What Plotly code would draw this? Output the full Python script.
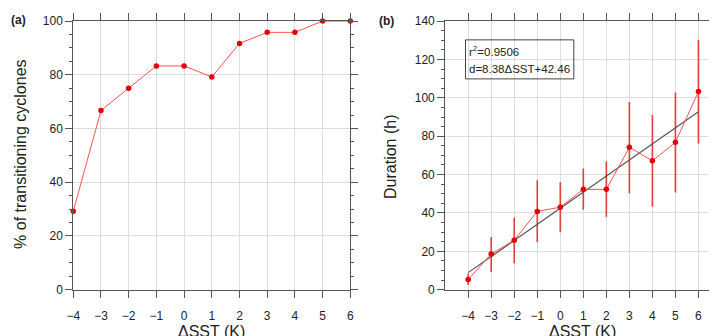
import plotly.graph_objects as go

# ---- data ----
dsst = [-4, -3, -2, -1, 0, 1, 2, 3, 4, 5, 6]
pct_transition = [29.2, 66.7, 75.0, 83.3, 83.3, 79.2, 91.7, 95.8, 95.8, 100.0, 100.0]
duration = [5.3, 18.6, 25.8, 40.8, 43.0, 52.3, 52.3, 74.2, 67.2, 76.8, 103.3]
duration_hi = [8.3, 27.5, 37.5, 57.0, 56.0, 63.2, 66.8, 97.8, 91.0, 102.8, 130.3]
duration_lo = [2.5, 9.2, 13.8, 24.7, 30.0, 41.7, 38.0, 50.3, 43.2, 50.7, 76.2]
fit_x = [-4, 6]
fit_y = [8.9, 92.7]
x_ticks = [-4, -3, -2, -1, 0, 1, 2, 3, 4, 5, 6]
eq_text1 = "r<sup>2</sup>=0.9506"
eq_text2 = "d=8.38ΔSST+42.46"

W, H = 713, 336
FONT = "Liberation Sans, Arial, sans-serif"
LINE_RED = "#ff5050"
MARK_RED = "#e60000"
ERR_RED = "rgba(230,30,30,0.85)"
AXC = "#555555"
GRIDC = "#dedede"

def px(x):
    return x / W

def py(y):
    return (H - y) / H

fig = go.Figure()

fig.add_trace(go.Scatter(
    x=dsst, y=pct_transition, mode="lines+markers",
    line=dict(color=LINE_RED, width=1),
    marker=dict(color=MARK_RED, size=5.5),
    cliponaxis=False, xaxis="x", yaxis="y", showlegend=False))

err_plus = [h - v for h, v in zip(duration_hi, duration)]
err_minus = [v - l for v, l in zip(duration, duration_lo)]
fig.add_trace(go.Scatter(
    x=dsst, y=duration, mode="markers",
    marker=dict(color="rgba(0,0,0,0)", size=1),
    error_y=dict(type="data", symmetric=False, array=err_plus, arrayminus=err_minus,
                 color=ERR_RED, thickness=1.6, width=0),
    cliponaxis=False, xaxis="x2", yaxis="y2", showlegend=False))
fig.add_trace(go.Scatter(
    x=fit_x, y=fit_y, mode="lines", line=dict(color="#555555", width=1.2),
    xaxis="x2", yaxis="y2", showlegend=False))
fig.add_trace(go.Scatter(
    x=dsst, y=duration, mode="lines+markers",
    line=dict(color=LINE_RED, width=1),
    marker=dict(color=MARK_RED, size=5.5),
    cliponaxis=False, xaxis="x2", yaxis="y2", showlegend=False))

common_x = dict(tickvals=x_ticks, showgrid=True, gridcolor=GRIDC, gridwidth=1,
                ticks="outside", ticklen=7, tickcolor=AXC, tickwidth=1,
                showline=True, linecolor=AXC, linewidth=1, zeroline=False,
                tickfont=dict(family=FONT, size=12, color="#222"),
                ticklabelstandoff=8)
common_y = dict(dtick=20, showgrid=True, gridcolor=GRIDC, gridwidth=1,
                ticks="outside", ticklen=7, tickcolor=AXC, tickwidth=1,
                showline=True, linecolor=AXC, linewidth=1, zeroline=False,
                minor=dict(dtick=5, ticks="outside", ticklen=3, tickcolor=AXC, showgrid=False),
                tickfont=dict(family=FONT, size=12, color="#222"))

y_bot, y_top = 295, 14.7
fig.update_layout(
    width=W, height=H, margin=dict(l=0, r=0, t=0, b=0),
    paper_bgcolor="white", plot_bgcolor="white",
    xaxis=dict(domain=[px(67.3), px(348.7)], range=[-4, 6], anchor="y", mirror="ticks", **common_x),
    yaxis=dict(domain=[py(y_bot), py(y_top)], range=[0, 100], anchor="x", mirror="ticks", **common_y),
    xaxis2=dict(domain=[px(445), 1.0], range=[-5, 6 + (713 - 702.3) / 23.4], anchor="y2", mirror="ticks", **common_x),
    yaxis2=dict(domain=[py(y_bot), py(y_top)], range=[0, 140], anchor="x2", **common_y),
)

annos = [
    dict(text="% of transitioning cyclones", x=px(13), y=py(153.5), textangle=-90,
         font=dict(family=FONT, size=16, color="#222")),
    dict(text="Duration (h)", x=px(390), y=py(156.5), textangle=-90,
         font=dict(family=FONT, size=16, color="#222")),
    dict(text="ΔSST (K)", x=px(208), y=py(328), yanchor="top",
         font=dict(family=FONT, size=16, color="#222")),
    dict(text="ΔSST (K)", x=px(585), y=py(328), yanchor="top",
         font=dict(family=FONT, size=16, color="#222")),
    dict(text="<b>(a)</b>", x=px(12), y=py(14), font=dict(family=FONT, size=12, color="#222")),
    dict(text="<b>(b)</b>", x=px(385), y=py(15), font=dict(family=FONT, size=12, color="#222")),
    dict(text=eq_text1, x=px(467), y=py(46), xanchor="left",
         font=dict(family=FONT, size=11.5, color="#222")),
    dict(text=eq_text2, x=px(467), y=py(65), xanchor="left",
         font=dict(family=FONT, size=11.5, color="#222")),
]
for a in annos:
    a.setdefault("xanchor", "center")
    a.setdefault("yanchor", "middle")
    fig.add_annotation(xref="paper", yref="paper", showarrow=False, **a)

fig.add_shape(type="rect", xref="paper", yref="paper",
              x0=px(465.7), x1=px(575.7), y0=py(75), y1=py(34.3),
              line=dict(color="#444", width=1), fillcolor="rgba(0,0,0,0)")

fig.write_html("out.html")
